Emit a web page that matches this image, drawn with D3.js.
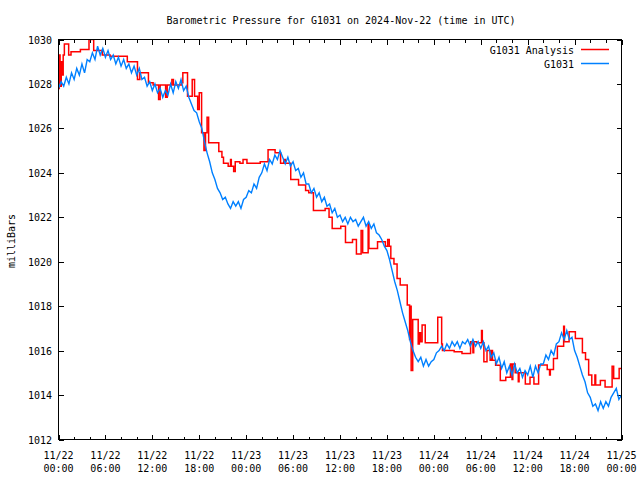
<!DOCTYPE html>
<html>
<head>
<meta charset="utf-8">
<script src="https://cdn.jsdelivr.net/npm/d3@7"></script>
<style>
  body { margin: 0; background: #fff; }
  text { font-family: "DejaVu Sans Mono", "Liberation Mono", monospace; font-size: 10px; fill: #000; }
</style>
</head>
<body>
<script>
// Lecturas de la estación G1031, cada 20 minutos desde 11/22 00:00 UTC
const obsValues = [
  1027.8, 1028.1, 1027.9,  1028.3, 1028.0, 1028.5,  1028.2, 1028.7, 1028.4,  1028.9, 1028.5, 1029.1,
  1029.0, 1029.4, 1029.1,  1029.7, 1029.3, 1029.6,  1029.2, 1029.5, 1029.1,  1029.3, 1028.9, 1029.2,
  1028.8, 1029.1, 1028.7,  1028.9, 1028.5, 1028.8,  1028.4, 1028.7, 1028.2,  1028.3, 1027.9, 1028.1,
  1027.7, 1028.0, 1027.6,  1027.8, 1027.4, 1027.7,  1027.5, 1028.0, 1027.6,  1028.1, 1027.8, 1028.2,
  1027.7, 1027.9, 1027.4,  1027.1, 1026.8, 1026.7,  1026.3, 1026.0, 1025.4,  1024.9, 1024.5, 1024.0,
  1023.7, 1023.3, 1023.1,  1022.8, 1022.9, 1022.6,  1022.4, 1022.7, 1022.5,  1022.7, 1022.4, 1022.8,
  1022.9, 1023.2, 1023.1,  1023.5, 1023.3, 1023.8,  1024.0, 1024.4, 1024.1,  1024.6, 1024.4, 1024.8,
  1024.6, 1025.0, 1024.7,  1024.4, 1024.7, 1024.3,  1024.5, 1024.1, 1024.2,  1023.8, 1024.0, 1023.5,
  1023.5, 1023.1, 1023.3,  1022.9, 1023.1, 1022.7,  1022.9, 1022.5, 1022.6,  1022.2, 1022.4, 1022.0,
  1022.1, 1021.8, 1022.0,  1021.7, 1022.0, 1021.8,  1021.9, 1021.6, 1021.8,  1022.0, 1021.6, 1021.8,
  1021.5, 1021.7, 1021.3,  1021.2, 1021.0, 1020.7,  1020.5, 1020.1, 1019.6,  1019.1, 1018.7, 1018.2,
  1017.7, 1017.3, 1016.9,  1016.4, 1016.0, 1015.7,  1015.5, 1015.7, 1015.3,  1015.6, 1015.3, 1015.5,
  1015.6, 1015.9, 1016.0,  1016.2, 1016.0, 1016.3,  1016.1, 1016.4, 1016.2,  1016.4, 1016.1, 1016.4,
  1016.3, 1016.5, 1016.2,  1016.5, 1016.2, 1016.4,  1016.1, 1016.4, 1016.0,  1016.2, 1015.7, 1015.9,
  1015.4, 1015.7, 1015.2,  1015.5, 1015.0, 1015.3,  1014.9, 1015.4, 1015.0,  1015.2, 1014.8, 1015.1,
  1014.9, 1015.3, 1014.8,  1015.3, 1015.0, 1015.4,  1015.4, 1015.8, 1015.6,  1016.0, 1015.8, 1016.3,
  1016.4, 1016.8, 1016.5,  1016.9, 1016.5, 1016.6,  1016.0, 1015.7, 1015.3,  1014.9, 1014.6, 1014.1,
  1013.9, 1013.5, 1013.6,  1013.3, 1013.7, 1013.4,  1013.7, 1013.5, 1013.9,  1014.1, 1014.3, 1013.8,
  1014.0
];

// Análisis: valor escalonado, hora (desde 11/22 00:00) en que empieza cada escalón
const analysisHours = [
  0, 0.1, 0.2, 0.35, 0.5, 0.6, 0.75, 1.3, 1.6, 2.8, 3.9, 4.5, 5.6, 6.6, 8.8, 10.1, 10.4, 11.5,
  12.1, 12.8, 13.0, 13.7, 13.9, 14.5, 14.7, 15.7, 15.9, 16.5, 17.1, 17.4, 17.8, 18.0, 18.3, 18.6,
  18.8, 19.0, 19.2, 20.5, 20.9, 21.1, 21.7, 22.0, 22.1, 22.4, 22.6, 23.2, 23.6, 24.1, 25.8, 26.8,
  27.7, 28.4, 28.8, 29.0, 29.7, 30.7, 31.6, 32.0, 32.6, 34.1, 34.6, 35.0, 36.1, 36.7, 37.6, 38.1,
  38.7, 38.9, 39.6, 39.7, 40.8, 41.8, 42.1, 42.3, 42.5, 42.9, 43.3, 43.7, 44.6, 44.9, 45.0, 45.1,
  45.3, 46.0, 46.15, 46.3, 46.5, 46.9, 48.5, 49.0, 49.1, 50.6, 51.6, 52.7, 53.0, 53.1, 53.5, 54.1,
  54.2, 54.4, 54.8, 55.2, 55.4, 55.5, 55.9, 56.5, 57.2, 57.8, 58.0, 58.1, 58.4, 58.8, 58.9, 59.7,
  60.3, 60.8, 61.4, 62.5, 62.8, 62.9, 63.3, 63.8, 64.6, 64.7, 65.3, 66.1, 67.0, 67.4, 67.8, 68.2,
  68.6, 68.7, 69.3, 69.9, 70.8, 71.0, 71.7, 72.0
];
const analysisValues = [
  1027.8, 1029.3, 1027.9, 1029.0, 1028.4, 1029.3, 1029.8, 1029.3, 1029.45, 1029.55, 1030.0, 1029.5,
  1029.3, 1029.25, 1029.0, 1028.2, 1028.5, 1028.05, 1027.95, 1027.3, 1027.95, 1027.4, 1027.95, 1028.2,
  1027.95, 1028.05, 1028.5, 1027.45, 1028.2, 1027.45, 1026.85, 1027.6, 1025.8, 1025.0, 1025.8, 1026.5,
  1025.35, 1024.96, 1024.7, 1024.43, 1024.3, 1024.6, 1024.3, 1024.06, 1024.5, 1024.43, 1024.6, 1024.43,
  1024.5, 1025.04, 1024.9, 1024.43, 1024.6, 1024.43, 1023.7, 1023.45, 1023.2, 1023.1, 1022.3, 1022.4,
  1022.0, 1021.5, 1021.6, 1020.86, 1021.0, 1020.35, 1021.4, 1020.4, 1021.7, 1020.6, 1020.9, 1020.7,
  1021.0, 1020.7, 1020.15, 1019.9, 1019.25, 1018.95, 1018.05, 1016.5, 1018.0, 1015.1, 1017.4, 1016.3,
  1016.8, 1016.4, 1017.15, 1016.35, 1017.5, 1016.3, 1016.0, 1015.95, 1015.87, 1016.4, 1015.9, 1016.4,
  1016.35, 1016.9, 1016.35, 1015.5, 1016.0, 1015.57, 1016.0, 1015.57, 1015.34, 1014.66, 1014.8, 1015.4,
  1014.7, 1015.4, 1015.0, 1014.6, 1015.0, 1014.5, 1014.8, 1014.5, 1015.35, 1015.15, 1014.9, 1015.15,
  1015.64, 1016.2, 1017.1, 1016.4, 1016.85, 1016.55, 1015.9, 1015.6, 1014.9, 1014.45, 1014.9, 1014.45,
  1014.66, 1014.36, 1015.3, 1014.75, 1015.2, 1015.2
];

const yTicks = [1012, 1014, 1016, 1018, 1020, 1022, 1024, 1026, 1028, 1030];
const seriesNames = ["G1031 Analysis", "G1031"];
const seriesColors = ["#ff0000", "#0080ff"];

const width = 640, height = 480;
const plotLeft = 58.5, plotRight = 621.5, plotTop = 39.5, plotBottom = 439.5;

const t0 = Date.UTC(2024, 10, 22);
const hour = 3600 * 1000;
const t1 = Date.UTC(2024, 10, 25);

const x = d3.scaleUtc().domain([new Date(t0), new Date(t1)]).range([plotLeft, plotRight]);
const y = d3.scaleLinear().domain([1012, 1030]).range([plotBottom, plotTop]);

const svg = d3.select("body").append("svg")
  .attr("width", width)
  .attr("height", height);

svg.append("rect").attr("width", width).attr("height", height).attr("fill", "#fff");

const majorTicks = d3.utcHour.every(6).range(new Date(t0), new Date(t1 + 1));
const minorTicks = d3.utcHour.every(2).range(new Date(t0), new Date(t1 + 1))
  .filter(d => d.getUTCHours() % 6 !== 0);

// ejes con marcas hacia dentro (estilo gnuplot)
function ejes(ticks, size) {
  svg.append("g").attr("transform", `translate(0,${plotBottom})`)
    .call(d3.axisBottom(x).tickValues(ticks).tickSizeInner(-size).tickSizeOuter(0).tickFormat(""));
  svg.append("g").attr("transform", `translate(0,${plotTop})`)
    .call(d3.axisTop(x).tickValues(ticks).tickSizeInner(-size).tickSizeOuter(0).tickFormat(""));
}
ejes(majorTicks, 5);
ejes(minorTicks, 3);

svg.append("g").attr("transform", `translate(${plotLeft},0)`)
  .call(d3.axisLeft(y).tickValues(yTicks).tickSizeInner(-5).tickSizeOuter(0).tickFormat(""));
svg.append("g").attr("transform", `translate(${plotRight},0)`)
  .call(d3.axisRight(y).tickValues(yTicks).tickSizeInner(-5).tickSizeOuter(0).tickFormat(""));

svg.selectAll(".domain").remove();
svg.selectAll(".tick line").attr("stroke", "#000").attr("shape-rendering", "crispEdges");

// etiquetas de los ejes
const fmtDia = d3.utcFormat("%m/%d");
const fmtHora = d3.utcFormat("%H:%M");
const etiquetasX = svg.append("g").selectAll("text")
  .data(majorTicks)
  .join("text")
  .attr("text-anchor", "middle")
  .attr("x", d => x(d));
etiquetasX.append("tspan").attr("x", d => x(d)).attr("y", 459).text(d => fmtDia(d));
etiquetasX.append("tspan").attr("x", d => x(d)).attr("y", 472).text(d => fmtHora(d));

svg.append("g").selectAll("text")
  .data(yTicks)
  .join("text")
  .attr("text-anchor", "end")
  .attr("x", 52)
  .attr("y", d => y(d) + 4)
  .text(d => d);

svg.append("text")
  .attr("text-anchor", "middle")
  .attr("transform", "translate(15,241) rotate(-90)")
  .text("milliBars");

svg.append("text")
  .attr("text-anchor", "middle")
  .attr("x", 341)
  .attr("y", 24)
  .text("Barometric Pressure for G1031 on 2024-Nov-22 (time in UTC)");

// series
const analysis = analysisHours.map((h, i) => ({ t: new Date(t0 + h * hour), v: analysisValues[i] }));
const obs = obsValues.map((v, i) => ({ t: new Date(t0 + i * hour / 3), v }));

svg.append("clipPath").attr("id", "area")
  .append("rect").attr("x", plotLeft).attr("y", plotTop)
  .attr("width", plotRight - plotLeft).attr("height", plotBottom - plotTop);

const stepLine = d3.line().x(d => x(d.t)).y(d => y(d.v)).curve(d3.curveStepAfter);
const obsLine = d3.line().x(d => x(d.t)).y(d => y(d.v));

const plot = svg.append("g").attr("clip-path", "url(#area)");
plot.append("path")
  .datum(analysis)
  .attr("d", stepLine)
  .attr("fill", "none")
  .attr("stroke", seriesColors[0])
  .attr("stroke-width", 1.5);
plot.append("path")
  .datum(obs)
  .attr("d", obsLine)
  .attr("fill", "none")
  .attr("stroke", seriesColors[1])
  .attr("stroke-width", 1.4);

// marco
svg.append("rect")
  .attr("x", plotLeft).attr("y", plotTop)
  .attr("width", plotRight - plotLeft).attr("height", plotBottom - plotTop)
  .attr("fill", "none").attr("stroke", "#000")
  .attr("shape-rendering", "crispEdges");

// leyenda
const items = seriesNames.map((name, i) => ({ name, color: seriesColors[i], yy: 49.5 + i * 14 }));
const leyenda = svg.append("g");
leyenda.selectAll("text")
  .data(items)
  .join("text")
  .attr("text-anchor", "end")
  .attr("x", 574)
  .attr("y", d => d.yy + 4)
  .text(d => d.name);
leyenda.selectAll("line")
  .data(items)
  .join("line")
  .attr("x1", 581).attr("x2", 609)
  .attr("y1", d => d.yy).attr("y2", d => d.yy)
  .style("stroke", d => d.color)
  .attr("stroke-width", 1.5);
</script>
</body>
</html>
